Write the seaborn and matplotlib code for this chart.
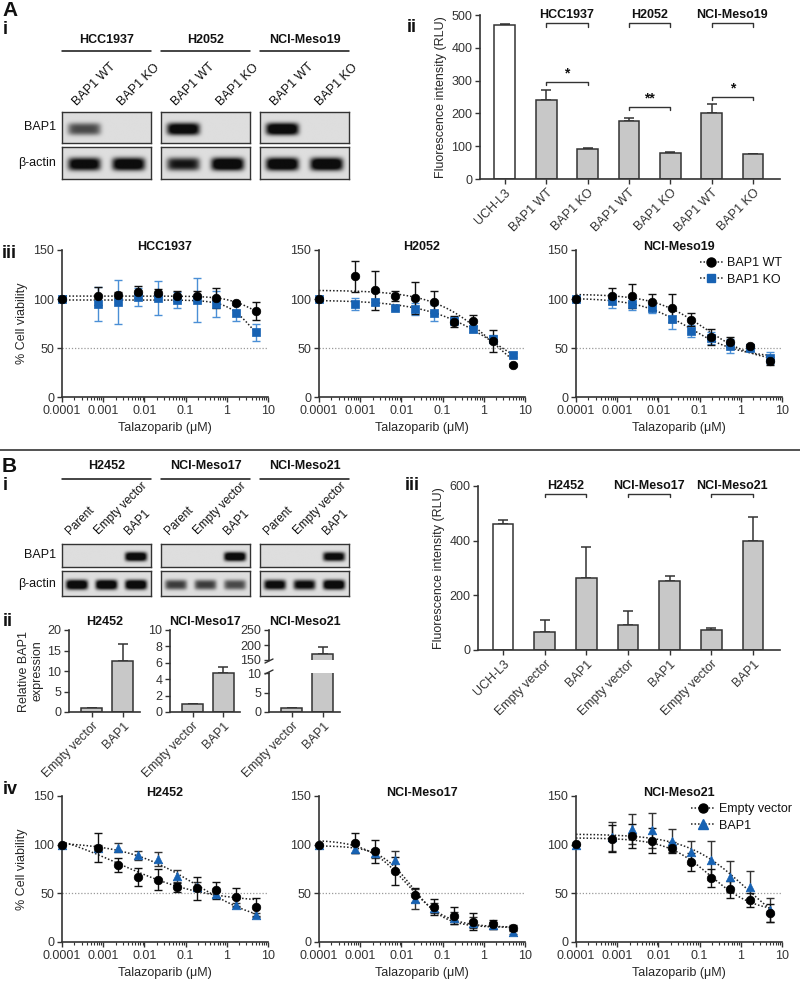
import numpy as np
import pandas as pd
import matplotlib
matplotlib.use('Agg')
import matplotlib.pyplot as plt
from matplotlib.lines import Line2D
from matplotlib.ticker import FixedLocator, LogLocator, NullFormatter
import seaborn as sns

sns.set_theme(style='ticks')
plt.rcParams['font.family'] = ['Liberation Sans', 'DejaVu Sans']
plt.rcParams['axes.edgecolor'] = '#333333'
plt.rcParams['xtick.color'] = '#333333'
plt.rcParams['ytick.color'] = '#333333'
plt.rcParams['text.color'] = '#111111'

# ---------------- data ----------------
# A i / B i western blot band strength per lane (0 = no band)
a1_cells = ['HCC1937', 'H2052', 'NCI-Meso19']
a1_lanes = ['BAP1 WT', 'BAP1 KO']
a1_bap1 = [[0.55, 0.0], [0.95, 0.0], [1.0, 0.0]]
a1_actin = [[0.9, 0.95], [0.75, 1.0], [1.0, 1.0]]

b1_cells = ['H2452', 'NCI-Meso17', 'NCI-Meso21']
b1_lanes = ['Parent', 'Empty vector', 'BAP1']
b1_bap1 = [[0.0, 0.0, 1.0], [0.0, 0.0, 1.0], [0.0, 0.0, 0.9]]
b1_actin = [[1.0, 1.0, 1.0], [0.6, 0.6, 0.55], [0.9, 0.85, 1.0]]

# A ii DUB activity
a2_labels = ['UCH-L3', 'BAP1 WT', 'BAP1 KO', 'BAP1 WT', 'BAP1 KO', 'BAP1 WT', 'BAP1 KO']
a2_mean = [468, 240, 91, 178, 78, 202, 75]
a2_err = [5, 30, 2, 8, 5, 28, 2]
a2_groups = ['HCC1937', 'H2052', 'NCI-Meso19']
a2_sig = ['*', '**', '*']
a2_sig_y = [296, 219, 250]

# B ii relative BAP1 expression
b2_cells = ['H2452', 'NCI-Meso17', 'NCI-Meso21']
b2_labels = ['Empty vector', 'BAP1']
b2_h2452 = [1.0, 12.5]
b2_h2452_err = [0.0, 4.2]
b2_meso17 = [1.0, 4.7]
b2_meso17_err = [0.0, 0.8]
b2_meso21 = [0.9, 170]
b2_meso21_err = [0.0, 25]

# B iii DUB activity
b3_labels = ['UCH-L3', 'Empty vector', 'BAP1', 'Empty vector', 'BAP1', 'Empty vector', 'BAP1']
b3_mean = [460, 65, 263, 93, 252, 73, 400]
b3_err = [15, 45, 115, 48, 18, 7, 88]
b3_groups = ['H2452', 'NCI-Meso17', 'NCI-Meso21']

# dose response (Talazoparib, uM); first dose is the untreated control
doses = [0.0001, 0.00076, 0.0023, 0.0069, 0.021, 0.062, 0.185, 0.556, 1.67, 5.0]

hcc1937_wt = [100, 103, 104, 107, 106, 103, 103, 101, 96, 88]
hcc1937_wt_err = [0, 9, 3, 6, 4, 5, 5, 10, 2, 9]
hcc1937_ko = [100, 95, 97, 102, 101, 99, 99, 95, 86, 66]
hcc1937_ko_err = [2, 17, 22, 9, 17, 8, 22, 13, 8, 9]

h2052_wt = [100, 123, 109, 103, 101, 97, 77, 78, 57, 33]
h2052_wt_err = [0, 16, 20, 5, 16, 11, 6, 6, 11, 1]
h2052_ko = [100, 95, 97, 91, 90, 86, 78, 69, 59, 43]
h2052_ko_err = [1, 6, 3, 2, 6, 8, 4, 3, 4, 2]

meso19_wt = [100, 103, 103, 97, 91, 79, 61, 56, 52, 37]
meso19_wt_err = [0, 8, 12, 8, 14, 7, 8, 5, 2, 4]
meso19_ko = [100, 98, 95, 91, 80, 67, 60, 52, 50, 40]
meso19_ko_err = [1, 7, 6, 5, 11, 6, 6, 7, 3, 6]

h2452_ev = [100, 97, 79, 67, 64, 56, 55, 53, 46, 36]
h2452_ev_err = [0, 15, 7, 9, 11, 5, 12, 9, 9, 9]
h2452_bap1 = [100, 97, 97, 89, 85, 68, 57, 49, 38, 27.5]
h2452_bap1_err = [0, 3, 5, 5, 7, 6, 5, 3, 2, 2]

meso17_ev = [100, 101.5, 93, 73, 48, 36, 27, 21, 18, 14]
meso17_ev_err = [0, 10, 12, 14, 7, 8, 9, 9, 5, 3]
meso17_bap1 = [100, 96, 91, 84, 44, 35, 25, 20, 17, 10]
meso17_bap1_err = [0, 5, 5, 10, 10, 5, 6, 6, 4, 2]

meso21_ev = [101, 106, 109, 104, 97, 82, 66, 54, 43, 30]
meso21_ev_err = [0, 14, 12, 13, 6, 9, 9, 9, 7, 9]
meso21_bap1 = [100, 108, 116, 115, 104, 92, 84, 67, 57, 33]
meso21_bap1_err = [0, 15, 15, 18, 12, 12, 20, 16, 16, 12]

BLUE = '#1762b3'
BLUE_ERR = '#4b8fd6'
DARK = '#333333'
FS = 9

W, H = 800, 981
fig = plt.figure(figsize=(8, 9.81), dpi=100)


def px_axes(x0, y0, x1, y1):
    return fig.add_axes([x0 / W, 1 - y1 / H, (x1 - x0) / W, (y1 - y0) / H])


def ftext(x, y, s, **kw):
    fig.text(x / W, 1 - y / H, s, **kw)


def fline(x0, x1, y, **kw):
    fig.add_artist(Line2D([x0 / W, x1 / W], [1 - y / H, 1 - y / H],
                          transform=fig.transFigure, **kw))


def draw_blot(x0, y0, x1, y1, bands, yc=0.55, hh=0.2):
    ax = px_axes(x0, y0, x1, y1)
    n = len(bands)
    gx = np.linspace(0, 1, 200)
    gy = np.linspace(0, 1, 60)
    X, Y = np.meshgrid(gx, gy)
    dark = np.zeros_like(X)
    for i, b in enumerate(bands):
        xc = (i + 0.5) / n
        prof = np.exp(-(np.abs(X - xc) / (0.37 / n)) ** 6) * np.exp(-(np.abs(Y - yc) / hh) ** 3)
        dark = np.maximum(dark, b * prof)
    img = 0.87 - 0.82 * np.clip(dark * 1.3, 0, 1)
    ax.imshow(img, cmap='gray', vmin=0, vmax=1, aspect='auto',
              extent=(0, 1, 1, 0), interpolation='bilinear')
    ax.set_xticks([])
    ax.set_yticks([])
    for s in ax.spines.values():
        s.set_color(DARK)
        s.set_linewidth(1)
    return ax


def blot_panel(cells, lanes, bap1, actin, head_y, line_y, lab_y, b_top, b_bot, a_top, a_bot,
               lane_fs=FS):
    boxes = [(62, 151), (161, 250), (260, 349)]
    n = len(lanes)
    for (x0, x1), cell, bb, ab in zip(boxes, cells, bap1, actin):
        ftext((x0 + x1) / 2, head_y, cell, ha='center', va='center',
              fontsize=FS, fontweight='bold')
        fline(x0, x1, line_y, color='#111111', lw=1.1)
        lw = (x1 - x0) / n
        for i, lane in enumerate(lanes):
            ftext(x0 + lw * (i + 0.5) - 5, lab_y, lane, rotation=45,
                  rotation_mode='anchor', ha='left', va='bottom', fontsize=lane_fs)
        draw_blot(x0, b_top, x1, b_bot, bb)
        draw_blot(x0, a_top, x1, a_bot, ab)
    ftext(56, (b_top + b_bot) / 2, 'BAP1', ha='right', va='center', fontsize=FS)
    ftext(56, (a_top + a_bot) / 2, 'β-actin', ha='right', va='center', fontsize=FS)


def style_axes(ax):
    sns.despine(ax=ax)
    for s in ['left', 'bottom']:
        ax.spines[s].set_color(DARK)
        ax.spines[s].set_linewidth(1.2)
    ax.tick_params(axis='both', which='major', length=3.5, width=1, labelsize=FS, pad=2)


def bar_panel(ax, labels, means, errs, colors, ylim, yticks, width=0.5):
    keys = [str(i) for i in range(len(means))]
    df = pd.DataFrame({'key': keys, 'value': means})
    sns.barplot(data=df, x='key', y='value', hue='key', order=keys,
                palette=dict(zip(keys, colors)), width=width, errorbar=None,
                edgecolor=DARK, linewidth=1.1, legend=False, ax=ax, zorder=2)
    ax.errorbar(range(len(means)), means, yerr=[np.zeros(len(errs)), errs], fmt='none',
                ecolor=DARK, elinewidth=1.1, capsize=3.5, capthick=1.1, zorder=1)
    ax.set_ylim(*ylim)
    ax.set_yticks(yticks)
    ax.set_xticks(range(len(labels)))
    ax.set_xticklabels(labels, rotation=45, ha='right', rotation_mode='anchor')
    ax.set_xlabel('')
    ax.set_ylabel('')
    style_axes(ax)


def bracket(ax, x0, x1, y, drop, color=DARK):
    ax.plot([x0, x0, x1, x1], [y - drop, y, y, y - drop], color=color, lw=1, clip_on=False)


def fit_4pl(y):
    lx = np.log10(doses)
    tops = np.linspace(85, 125, 21)
    bots = np.linspace(0, 70, 15)
    lics = np.linspace(-3.5, 2.0, 45)
    hills = np.linspace(0.3, 2.5, 23)
    T, B, L, S = np.meshgrid(tops, bots, lics, hills, indexing='ij', sparse=True)
    pred = B[..., None] + (T - B)[..., None] / (1 + 10 ** ((lx - L[..., None]) * S[..., None]))
    sse = ((pred - np.asarray(y, float)) ** 2).sum(-1)
    i = np.unravel_index(np.argmin(sse), sse.shape)
    return tops[i[0]], bots[i[1]], lics[i[2]], hills[i[3]]


def dose_panel(ax, title, series, ylabel=False, legend=None, leg_x=0.6):
    xs = np.logspace(-4, np.log10(5), 250)
    for mean, err, marker, color, ecolor, size in series:
        t, b, l, h = fit_4pl(mean)
        curve = b + (t - b) / (1 + 10 ** ((np.log10(xs) - l) * h))
        sns.lineplot(x=xs, y=curve, color='#222222', linestyle=(0, (1, 1.3)), lw=1.1,
                     estimator=None, ax=ax, zorder=2)
    for mean, err, marker, color, ecolor, size in series:
        ax.errorbar(doses, mean, yerr=err, fmt='none', ecolor=ecolor, elinewidth=1,
                    capsize=3, capthick=1, zorder=3, clip_on=False)
        sns.scatterplot(x=doses, y=mean, marker=marker, color=color, s=size,
                        edgecolor=color, linewidth=0.5, ax=ax, zorder=4, clip_on=False)
    ax.axhline(50, color='#999999', ls=(0, (1, 1.5)), lw=0.9, zorder=1)
    ax.set_xscale('log')
    ax.set_xlim(1e-4, 10)
    ax.set_ylim(0, 150)
    ax.set_yticks([0, 50, 100, 150])
    ax.xaxis.set_major_locator(FixedLocator([1e-4, 1e-3, 1e-2, 1e-1, 1, 10]))
    ax.set_xticklabels(['0.0001', '0.001', '0.01', '0.1', '1', '10'])
    ax.xaxis.set_minor_locator(LogLocator(base=10, subs=np.arange(2, 10)))
    ax.xaxis.set_minor_formatter(NullFormatter())
    style_axes(ax)
    ax.tick_params(axis='x', which='minor', length=2, width=0.8)
    ax.set_xlabel('Talazoparib (μM)', fontsize=FS, labelpad=4)
    ax.set_ylabel('% Cell viability' if ylabel else '', fontsize=FS, labelpad=4)
    ax.text(0.5, 1.02, title, transform=ax.transAxes, ha='center', va='center',
            fontsize=FS, fontweight='bold')
    if legend:
        ax.legend(handles=legend, loc='upper left', bbox_to_anchor=(leg_x, 0.95),
                  frameon=False, fontsize=FS, handlelength=1.9, handletextpad=0.3,
                  labelspacing=0.35, borderpad=0, borderaxespad=0)


# ---------------- panel letters ----------------
ftext(2, 10, 'A', fontsize=15, fontweight='bold', va='center')
ftext(3, 29, 'i', fontsize=13, fontweight='bold', va='center')
ftext(407, 27, 'ii', fontsize=13, fontweight='bold', va='center')
ftext(2, 254, 'iii', fontsize=13, fontweight='bold', va='center')
ftext(2, 467, 'B', fontsize=15, fontweight='bold', va='center')
ftext(3, 486, 'i', fontsize=13, fontweight='bold', va='center')
ftext(405, 485, 'iii', fontsize=13, fontweight='bold', va='center')
ftext(3, 622, 'ii', fontsize=13, fontweight='bold', va='center')
ftext(3, 789, 'iv', fontsize=13, fontweight='bold', va='center')
fline(0, 800, 450, color='#444444', lw=1.3)

# ---------------- A i / B i blots ----------------
blot_panel(a1_cells, a1_lanes, a1_bap1, a1_actin, head_y=40, line_y=51, lab_y=108,
           b_top=112, b_bot=143, a_top=147, a_bot=179)
blot_panel(b1_cells, b1_lanes, b1_bap1, b1_actin, head_y=466, line_y=479, lab_y=537,
           b_top=544, b_bot=567, a_top=571, a_bot=596, lane_fs=8.5)

# ---------------- A ii ----------------
ax = px_axes(480, 15, 780, 179)
bar_panel(ax, a2_labels, a2_mean, a2_err, ['white'] + ['#c8c8c8'] * 6, (0, 500),
          [0, 100, 200, 300, 400, 500])
ax.set_xlim(-0.6, 6.65)
ax.set_ylabel('Fluorescence intensity (RLU)', fontsize=FS, labelpad=3)
for g, name in enumerate(a2_groups):
    x0, x1 = 1 + 2 * g, 2 + 2 * g
    bracket(ax, x0, x1, 476, 12)
    ax.text((x0 + x1) / 2, 500, name, ha='center', va='center', fontsize=FS,
            fontweight='bold', clip_on=False)
    bracket(ax, x0, x1, a2_sig_y[g], 9)
    ax.text((x0 + x1) / 2, a2_sig_y[g] + 4, a2_sig[g], ha='center', va='bottom',
            fontsize=10, fontweight='bold')

# ---------------- B iii ----------------
ax = px_axes(478, 486, 780, 650)
bar_panel(ax, b3_labels, b3_mean, b3_err, ['white'] + ['#c8c8c8'] * 6, (0, 600),
          [0, 200, 400, 600])
ax.set_xlim(-0.6, 6.65)
ax.set_ylabel('Fluorescence intensity (RLU)', fontsize=FS, labelpad=3)
for g, name in enumerate(b3_groups):
    x0, x1 = 1 + 2 * g, 2 + 2 * g
    bracket(ax, x0, x1, 571, 12)
    ax.text((x0 + x1) / 2, 600, name, ha='center', va='center', fontsize=FS,
            fontweight='bold', clip_on=False)

# ---------------- B ii ----------------
b2_xlim = (-0.74, 1.55)
ax = px_axes(69, 630, 140, 712)
bar_panel(ax, b2_labels, b2_h2452, b2_h2452_err, ['#c8c8c8'] * 2, (0, 20),
          [0, 5, 10, 15, 20], width=0.68)
ax.set_xlim(*b2_xlim)
ax.set_ylabel('Relative BAP1\nexpression', fontsize=FS, labelpad=3, linespacing=1.1)
ax.text(0.5, 1.1, b2_cells[0], transform=ax.transAxes, ha='center', va='center',
        fontsize=FS, fontweight='bold')

ax = px_axes(170, 630, 240, 712)
bar_panel(ax, b2_labels, b2_meso17, b2_meso17_err, ['#c8c8c8'] * 2, (0, 10),
          [0, 2, 4, 6, 8, 10], width=0.68)
ax.set_xlim(*b2_xlim)
ax.text(0.5, 1.1, b2_cells[1], transform=ax.transAxes, ha='center', va='center',
        fontsize=FS, fontweight='bold')

ax_lo = px_axes(269, 673, 340, 712)
bar_panel(ax_lo, b2_labels, b2_meso21, [0, 0], ['#c8c8c8'] * 2, (0, 10), [0, 5, 10], width=0.68)
ax_lo.set_xlim(*b2_xlim)
ax_hi = px_axes(269, 630, 340, 660)
bar_panel(ax_hi, b2_labels, b2_meso21, b2_meso21_err, ['#c8c8c8'] * 2, (150, 250),
          [150, 200, 250], width=0.68)
ax_hi.set_xlim(*b2_xlim)
ax_hi.spines['bottom'].set_visible(False)
ax_hi.tick_params(axis='x', bottom=False, labelbottom=False)
ax_hi.text(0.5, 1.27, b2_cells[2], transform=ax_hi.transAxes, ha='center', va='center',
           fontsize=FS, fontweight='bold')
for yy in (661, 672):
    fig.add_artist(Line2D([265 / W, 273 / W], [1 - (yy + 2) / H, 1 - (yy - 2) / H],
                          transform=fig.transFigure, color=DARK, lw=1))

# ---------------- A iii ----------------
x_spans = [(62, 268), (319, 525), (576, 782)]
wt_leg = [Line2D([], [], color='#222222', ls=(0, (1, 1.3)), lw=1.1, marker='o',
                 markersize=6.5, markerfacecolor='black', markeredgecolor='black', label='BAP1 WT'),
          Line2D([], [], color='#222222', ls=(0, (1, 1.3)), lw=1.1, marker='s',
                 markersize=6, markerfacecolor=BLUE, markeredgecolor=BLUE, label='BAP1 KO')]
a3_series = [
    ('HCC1937', hcc1937_ko, hcc1937_ko_err, hcc1937_wt, hcc1937_wt_err),
    ('H2052', h2052_ko, h2052_ko_err, h2052_wt, h2052_wt_err),
    ('NCI-Meso19', meso19_ko, meso19_ko_err, meso19_wt, meso19_wt_err),
]
for k, (title, ko, ko_e, wt, wt_e) in enumerate(a3_series):
    x0, x1 = x_spans[k]
    ax = px_axes(x0, 250, x1, 397)
    dose_panel(ax, title,
               [(ko, ko_e, 's', BLUE, BLUE_ERR, 30), (wt, wt_e, 'o', 'black', '#111111', 38)],
               ylabel=(k == 0), legend=wt_leg if k == 2 else None)

# ---------------- B iv ----------------
ev_leg = [Line2D([], [], color='#222222', ls=(0, (1, 1.3)), lw=1.1, marker='o',
                 markersize=6.5, markerfacecolor='black', markeredgecolor='black', label='Empty vector'),
          Line2D([], [], color='#222222', ls=(0, (1, 1.3)), lw=1.1, marker='^',
                 markersize=6.5, markerfacecolor=BLUE, markeredgecolor=BLUE, label='BAP1')]
b4_series = [
    ('H2452', h2452_bap1, h2452_bap1_err, h2452_ev, h2452_ev_err),
    ('NCI-Meso17', meso17_bap1, meso17_bap1_err, meso17_ev, meso17_ev_err),
    ('NCI-Meso21', meso21_bap1, meso21_bap1_err, meso21_ev, meso21_ev_err),
]
for k, (title, bp, bp_e, ev, ev_e) in enumerate(b4_series):
    x0, x1 = x_spans[k]
    ax = px_axes(x0, 796, x1, 942)
    dose_panel(ax, title,
               [(bp, bp_e, '^', BLUE, '#333333', 38), (ev, ev_e, 'o', 'black', '#111111', 38)],
               ylabel=(k == 0), legend=ev_leg if k == 2 else None, leg_x=0.56)

fig.savefig('out.png', dpi=100)
